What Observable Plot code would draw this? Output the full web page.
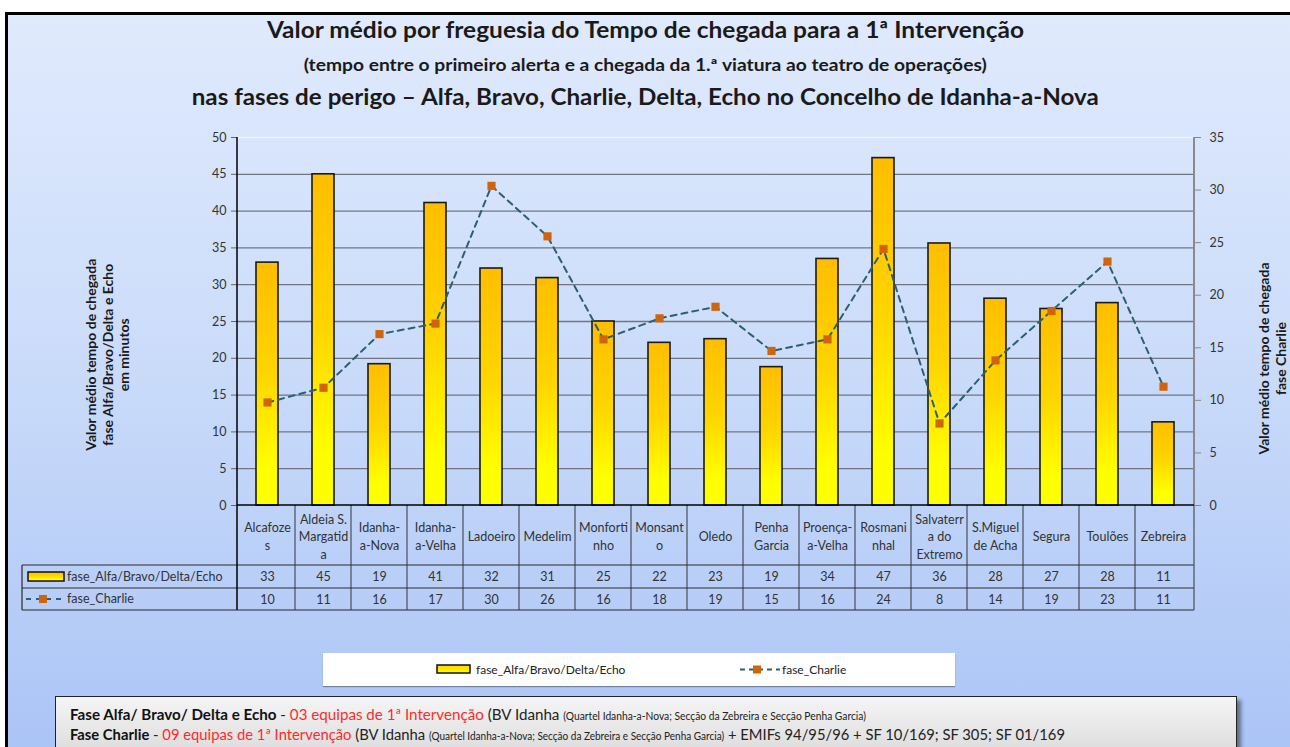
<!DOCTYPE html>
<html>
<head>
<meta charset="utf-8">
<script src="https://cdn.jsdelivr.net/npm/d3@7"></script>
<script src="https://cdn.jsdelivr.net/npm/@observablehq/plot@0.6"></script>
<style>
html,body{margin:0;padding:0;background:#fff;}
body{width:1290px;height:747px;overflow:hidden;font-family:Lato,sans-serif;}
#page{position:relative;width:1290px;height:747px;overflow:hidden;background:#fff;}
#bg{position:absolute;left:5px;top:12px;width:1300px;height:760px;border-left:3px solid #000;border-top:3px solid #000;
  background:linear-gradient(to bottom,#e0eafd 0%,#cbdcfa 45%,#a9c3f6 100%);}
.title{position:absolute;left:0;width:1290px;text-align:center;font-weight:bold;color:#1a1a1a;white-space:nowrap;}
.title span{display:inline-block;transform-origin:center;}
#chart{position:absolute;left:0;top:0;}
.ytitle{position:absolute;width:320px;text-align:center;font-weight:bold;font-size:14px;line-height:16.5px;color:#1a1a1a;transform:rotate(-90deg);white-space:nowrap;}
#legend{position:absolute;left:323px;top:653px;width:632px;height:33px;background:#fff;box-shadow:0 1px 1px rgba(0,0,0,0.35);}
.lg{position:absolute;top:0;height:33px;line-height:33px;font-size:12px;color:#222;white-space:nowrap;}
#footer{position:absolute;left:55px;top:696px;width:1180px;height:70px;border:1.5px solid #222;
  background:linear-gradient(to bottom,#f5f5f5,#d6d6d6);box-shadow:4px 4px 4px rgba(0,0,0,0.45);}
.fl{position:absolute;left:14px;white-space:nowrap;font-size:15.5px;color:#222;transform-origin:left center;}
.fl b{font-weight:bold;color:#111;}
.red{color:#ff2a2a;}
.sm{font-size:10.5px;}
</style>
</head>
<body>
<div id="page">
  <div id="bg"></div>
  <div class="title" style="top:15px;font-size:23px;line-height:28px;"><span data-w="757">Valor médio por freguesia do Tempo de chegada para a 1ª Intervenção</span></div>
  <div class="title" style="top:54px;font-size:16.5px;line-height:22px;"><span data-w="683">(tempo entre o primeiro alerta e a chegada da 1.ª viatura ao teatro de operações)</span></div>
  <div class="title" style="top:82px;font-size:23px;line-height:28px;"><span data-w="907">nas fases de perigo – Alfa, Bravo, Charlie, Delta, Echo no Concelho de Idanha-a-Nova</span></div>
  <div id="chart"></div>
  <div class="ytitle" style="left:-52px;top:330px;">Valor médio tempo de chegada<br>fase Alfa/Bravo/Delta e Echo<br>em minutos</div>
  <div class="ytitle" style="left:1112px;top:342px;">Valor médio tempo de chegada<br>fase Charlie</div>
  <div id="legend">
    <svg style="position:absolute;left:113px;top:11px;" width="36" height="11">
      <defs><linearGradient id="lgG" x1="0" y1="0" x2="0" y2="1"><stop offset="0" stop-color="#ffd000"/><stop offset="1" stop-color="#ffff00"/></linearGradient></defs>
      <rect x="1" y="1" width="33" height="8" fill="url(#lgG)" stroke="#111" stroke-width="1.5"/>
    </svg>
    <div class="lg" style="left:153px;">fase_Alfa/Bravo/Delta/Echo</div>
    <svg style="position:absolute;left:415px;top:10px;" width="44" height="13">
      <line x1="2" y1="6.5" x2="42" y2="6.5" stroke="#2e5f6e" stroke-width="2" stroke-dasharray="5,4"/>
      <rect x="15" y="2.5" width="8" height="8" fill="#d0640a"/>
    </svg>
    <div class="lg" style="left:459px;">fase_Charlie</div>
  </div>
  <div id="footer">
    <div class="fl" data-w="796" style="top:8px;"><b>Fase Alfa/ Bravo/ Delta e Echo</b> - <span class="red">03 equipas de 1ª Intervenção</span> (BV Idanha <span class="sm">(Quartel Idanha-a-Nova; Secção da Zebreira e Secção Penha Garcia)</span></div>
    <div class="fl" data-w="995" style="top:28px;"><b>Fase Charlie</b> - <span class="red">09 equipas de 1ª Intervenção</span> (BV Idanha <span class="sm">(Quartel Idanha-a-Nova; Secção da Zebreira e Secção Penha Garcia)</span> + EMIFs 94/95/96 + SF 10/169; SF 305; SF 01/169</div>
  </div>
</div>
<script>
// ---- data ----
const categories = ["Alcafozes", "Aldeia S. Margatida", "Idanha-a-Nova", "Idanha-a-Velha", "Ladoeiro", "Medelim",
  "Monfortinho", "Monsanto", "Oledo", "Penha Garcia", "Proença-a-Velha", "Rosmaninhal",
  "Salvaterra do Extremo", "S.Miguel de Acha", "Segura", "Toulões", "Zebreira"];
const categoryLabels = ["Alcafoze\ns", "Aldeia S.\nMargatid\na", "Idanha-\na-Nova", "Idanha-\na-Velha", "Ladoeiro", "Medelim",
  "Monforti\nnho", "Monsant\no", "Oledo", "Penha\nGarcia", "Proença-\na-Velha", "Rosmani\nnhal",
  "Salvaterr\na do\nExtremo", "S.Miguel\nde Acha", "Segura", "Toulões", "Zebreira"];
const faseAlfa = [33.0, 45.0, 19.2, 41.1, 32.2, 30.9, 25.0, 22.1, 22.6, 18.8, 33.5, 47.2, 35.6, 28.1, 26.7, 27.5, 11.3];
const faseCharlie = [9.8, 11.2, 16.3, 17.3, 30.4, 25.6, 15.8, 17.8, 18.9, 14.7, 15.8, 24.4, 7.8, 13.8, 18.5, 23.2, 11.3];
const leftTicks = [0, 5, 10, 15, 20, 25, 30, 35, 40, 45, 50];
const rightTicks = [0, 5, 10, 15, 20, 25, 30, 35];
const seriesNames = ["fase_Alfa/Bravo/Delta/Echo", "fase_Charlie"];

(function () {
  const leftMax = 50, rightMax = 35, k = leftMax / rightMax;
  const data = categories.map((c, i) => ({cat: c, label: categoryLabels[i], alfa: faseAlfa[i], charlie: faseCharlie[i]}));

  const W = 1290, H = 620, ML = 237, MR = 96, MT = 137, MB = 115;
  const FONT = "Lato, sans-serif";

  const plot = Plot.plot({
    width: W, height: H,
    marginLeft: ML, marginRight: MR, marginTop: MT, marginBottom: MB,
    style: {background: "transparent", overflow: "visible", fontFamily: FONT, fontSize: "12.5px", color: "#333"},
    x: {domain: categories, paddingInner: 0.6, paddingOuter: 0.3, axis: null},
    y: {domain: [0, leftMax]},
    marks: [
      Plot.gridY(leftTicks.filter(t => t > 0 && t < leftMax), {stroke: "#707684", strokeOpacity: 1, strokeWidth: 1.3}),
      Plot.ruleY([leftMax], {stroke: "#eef3fb", strokeWidth: 1.5}),
      Plot.axisY(leftTicks, {anchor: "left", label: null, tickSize: 6, tickPadding: 5, color: "#333", stroke: "#666", fontSize: 12.5}),
      Plot.axisY(rightTicks.map(t => t * k), {anchor: "right", label: null, tickSize: 6, tickPadding: 9,
        tickFormat: d => String(Math.round(d / k)), color: "#333", stroke: "#888", fontSize: 12.5}),
      Plot.barY(data, {x: "cat", y: "alfa", fill: "url(#alfaGrad)", stroke: "#1a1a1a", strokeWidth: 1.6}),
      Plot.line(data, {x: "cat", y: d => d.charlie * k, stroke: "#2e5f6e", strokeWidth: 2, strokeDasharray: "6,5"}),
      Plot.dot(data, {x: "cat", y: d => d.charlie * k, symbol: "square", r: 4.6, fill: "#d0640a", stroke: "none"}),
      Plot.text(data, {x: "cat", text: "label", frameAnchor: "bottom", dy: 30, lineAnchor: "middle", lineHeight: 1.4,
        fontSize: 12.5, fill: "#333"}),
      Plot.text(data, {x: "cat", text: d => String(Math.round(d.alfa)), frameAnchor: "bottom", dy: 71, lineAnchor: "middle",
        fontSize: 12.5, fill: "#333"}),
      Plot.text(data, {x: "cat", text: d => String(Math.round(d.charlie)), frameAnchor: "bottom", dy: 94, lineAnchor: "middle",
        fontSize: 12.5, fill: "#333"})
    ]
  });

  // gradient for bars
  const svg = d3.select(plot);
  const defs = svg.insert("defs", ":first-child");
  const grad = defs.append("linearGradient").attr("id", "alfaGrad").attr("x1", 0).attr("y1", 0).attr("x2", 0).attr("y2", 1);
  grad.append("stop").attr("offset", "0").attr("stop-color", "#ffbe00");
  grad.append("stop").attr("offset", "0.45").attr("stop-color", "#ffd400");
  grad.append("stop").attr("offset", "0.85").attr("stop-color", "#ffff00");
  grad.append("stop").attr("offset", "1").attr("stop-color", "#ffff00");

  // axis lines and data table grid, using the plot's x scale
  const xs = plot.scale("x");
  const step = xs.step, bw = xs.bandwidth;
  const pLeft = ML, pRight = W - MR, pTop = MT, pBottom = H - MB;
  const rowTop = pBottom + 60, rowMid = pBottom + 83, rowBot = pBottom + 105, labelLeft = 22;
  const g = svg.append("g");
  const bounds = categories.map(c => xs.apply(c) - (step - bw) / 2).slice(1);
  bounds.forEach(b => g.append("line").attr("x1", b).attr("x2", b).attr("y1", pBottom).attr("y2", rowBot).attr("stroke", "#4a4f5a").attr("stroke-width", 1.2));
  [rowTop, rowMid, rowBot].forEach(y => g.append("line").attr("x1", labelLeft).attr("x2", pRight).attr("y1", y).attr("y2", y).attr("stroke", "#2a2a2a").attr("stroke-width", 1.2));
  g.append("line").attr("x1", labelLeft).attr("x2", labelLeft).attr("y1", rowTop).attr("y2", rowBot).attr("stroke", "#2a2a2a").attr("stroke-width", 1.2);
  g.append("line").attr("x1", pRight).attr("x2", pRight).attr("y1", pBottom).attr("y2", rowBot).attr("stroke", "#4a4f5a").attr("stroke-width", 1.2);
  g.append("line").attr("x1", pLeft).attr("x2", pLeft).attr("y1", pTop).attr("y2", rowBot).attr("stroke", "#000").attr("stroke-width", 1.5);
  g.append("line").attr("x1", pRight).attr("x2", pRight).attr("y1", pTop).attr("y2", pBottom).attr("stroke", "#8a8a8a").attr("stroke-width", 2);
  g.append("line").attr("x1", pLeft).attr("x2", pRight).attr("y1", pBottom).attr("y2", pBottom).attr("stroke", "#000").attr("stroke-width", 1.5);
  const r1 = (rowTop + rowMid) / 2, r2 = (rowMid + rowBot) / 2;
  g.append("rect").attr("x", 28).attr("y", r1 - 4.5).attr("width", 36).attr("height", 9).attr("fill", "url(#alfaGrad)").attr("stroke", "#111").attr("stroke-width", 1.5);
  g.append("line").attr("x1", 26).attr("x2", 64).attr("y1", r2).attr("y2", r2).attr("stroke", "#2e5f6e").attr("stroke-width", 2).attr("stroke-dasharray", "5,5");
  g.append("rect").attr("x", 39).attr("y", r2 - 4).attr("width", 8).attr("height", 8).attr("fill", "#d0640a");
  [[r1, seriesNames[0]], [r2, seriesNames[1]]].forEach(([y, t]) =>
    g.append("text").attr("x", 67).attr("y", y).attr("dy", "0.35em").attr("text-anchor", "start")
      .attr("font-size", 12.5).attr("fill", "#333").attr("font-family", FONT).text(t));

  document.getElementById("chart").appendChild(plot);

  // fit text widths to the reference layout
  document.querySelectorAll("[data-w]").forEach(el => {
    const w = el.getBoundingClientRect().width;
    const target = +el.getAttribute("data-w");
    if (w > 0) el.style.transform = `scaleX(${target / w})`;
  });
})();
</script>
</body>
</html>
